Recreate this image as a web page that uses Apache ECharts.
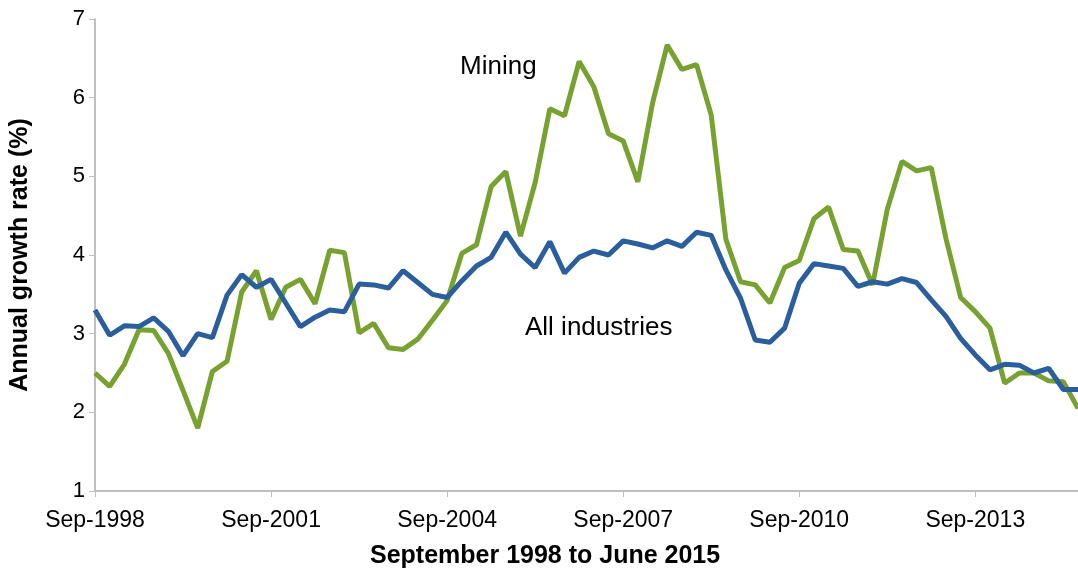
<!DOCTYPE html>
<html>
<head>
<meta charset="utf-8">
<script src="https://cdn.jsdelivr.net/npm/echarts@6/dist/echarts.min.js"></script>
<style>
  html, body { margin: 0; padding: 0; background: #fff; }
  #chart { width: 1078px; height: 571px; }
</style>
</head>
<body>
<div id="chart"></div>
<script>
// quarters Sep-1998 .. Jun-2015
const months = ['Sep', 'Dec', 'Mar', 'Jun']
const quarters = []
for (let i = 0; i < 68; i++) {
  const m = months[i % 4]
  const y = 1998 + Math.floor((i + 2) / 4)
  quarters.push(`${m}-${y}`)
}

const allIndustries = [
  3.30, 2.98, 3.10, 3.09, 3.20, 3.03, 2.72, 3.00, 2.95, 3.49,
  3.75, 3.59, 3.69, 3.39, 3.09, 3.21, 3.30, 3.28, 3.63, 3.62,
  3.58, 3.80, 3.65, 3.50, 3.46, 3.67, 3.86, 3.97, 4.29, 4.01,
  3.84, 4.17, 3.77, 3.97, 4.05, 4.00, 4.18, 4.14, 4.09, 4.18,
  4.11, 4.29, 4.25, 3.81, 3.45, 2.92, 2.89, 3.07, 3.64, 3.89,
  3.86, 3.83, 3.60, 3.66, 3.63, 3.70, 3.65, 3.43, 3.22, 2.94,
  2.73, 2.54, 2.61, 2.60, 2.50, 2.56, 2.29, 2.29
]

const mining = [
  2.50, 2.33, 2.61, 3.05, 3.04, 2.75, 2.28, 1.80, 2.52, 2.65,
  3.53, 3.80, 3.18, 3.59, 3.69, 3.38, 4.06, 4.03, 3.01, 3.13,
  2.82, 2.80, 2.93, 3.17, 3.42, 4.02, 4.13, 4.87, 5.06, 4.24,
  4.92, 5.86, 5.77, 6.46, 6.14, 5.54, 5.45, 4.93, 5.93, 6.67,
  6.36, 6.42, 5.78, 4.20, 3.66, 3.62, 3.39, 3.84, 3.93, 4.46,
  4.61, 4.07, 4.05, 3.62, 4.58, 5.19, 5.07, 5.11, 4.21, 3.46,
  3.28, 3.07, 2.37, 2.50, 2.50, 2.40, 2.39, 2.05
]

const font = 'Arial, "Liberation Sans", sans-serif'
const axisGray = '#BFBFBF'

const chart = echarts.init(document.getElementById('chart'))
chart.setOption({
  animation: false,
  grid: { left: 94, right: 0, top: 19, bottom: 80 },
  xAxis: {
    type: 'category',
    data: quarters,
    boundaryGap: false,
    axisLine: { lineStyle: { color: axisGray, width: 2 } },
    axisTick: { interval: 11, length: 6, lineStyle: { color: axisGray, width: 1 } },
    axisLabel: { interval: 11, color: '#000', fontSize: 23, fontFamily: font, margin: 18 },
    splitLine: { show: false }
  },
  yAxis: {
    type: 'value',
    min: 1, max: 7, interval: 1,
    name: 'Annual growth rate (%)',
    nameLocation: 'middle',
    nameGap: 62,
    nameTextStyle: { color: '#000', fontSize: 25, fontWeight: 'bold', fontFamily: font },
    axisLine: { show: true, lineStyle: { color: axisGray, width: 2 } },
    axisTick: { show: true, length: 6, lineStyle: { color: axisGray, width: 1 } },
    axisLabel: { color: '#000', fontSize: 22, fontFamily: font, margin: 10 },
    splitLine: { show: false }
  },
  series: [
    {
      name: 'Mining',
      type: 'line',
      data: mining,
      symbol: 'none',
      lineStyle: { color: '#77A22F', width: 5 }
    },
    {
      name: 'All industries',
      type: 'line',
      data: allIndustries,
      symbol: 'none',
      lineStyle: { color: '#2A5E9C', width: 5 }
    }
  ],
  graphic: [
    { type: 'text', left: 460, top: 54, style: { text: 'Mining', fill: '#000', fontSize: 26, fontFamily: font } },
    { type: 'text', left: 525, top: 315, style: { text: 'All industries', fill: '#000', fontSize: 26, fontFamily: font } },
    { type: 'text', left: 370, top: 544, style: { text: 'September 1998 to June 2015', fill: '#000', fontSize: 25, fontWeight: 'bold', fontFamily: font } }
  ]
})
</script>
</body>
</html>
